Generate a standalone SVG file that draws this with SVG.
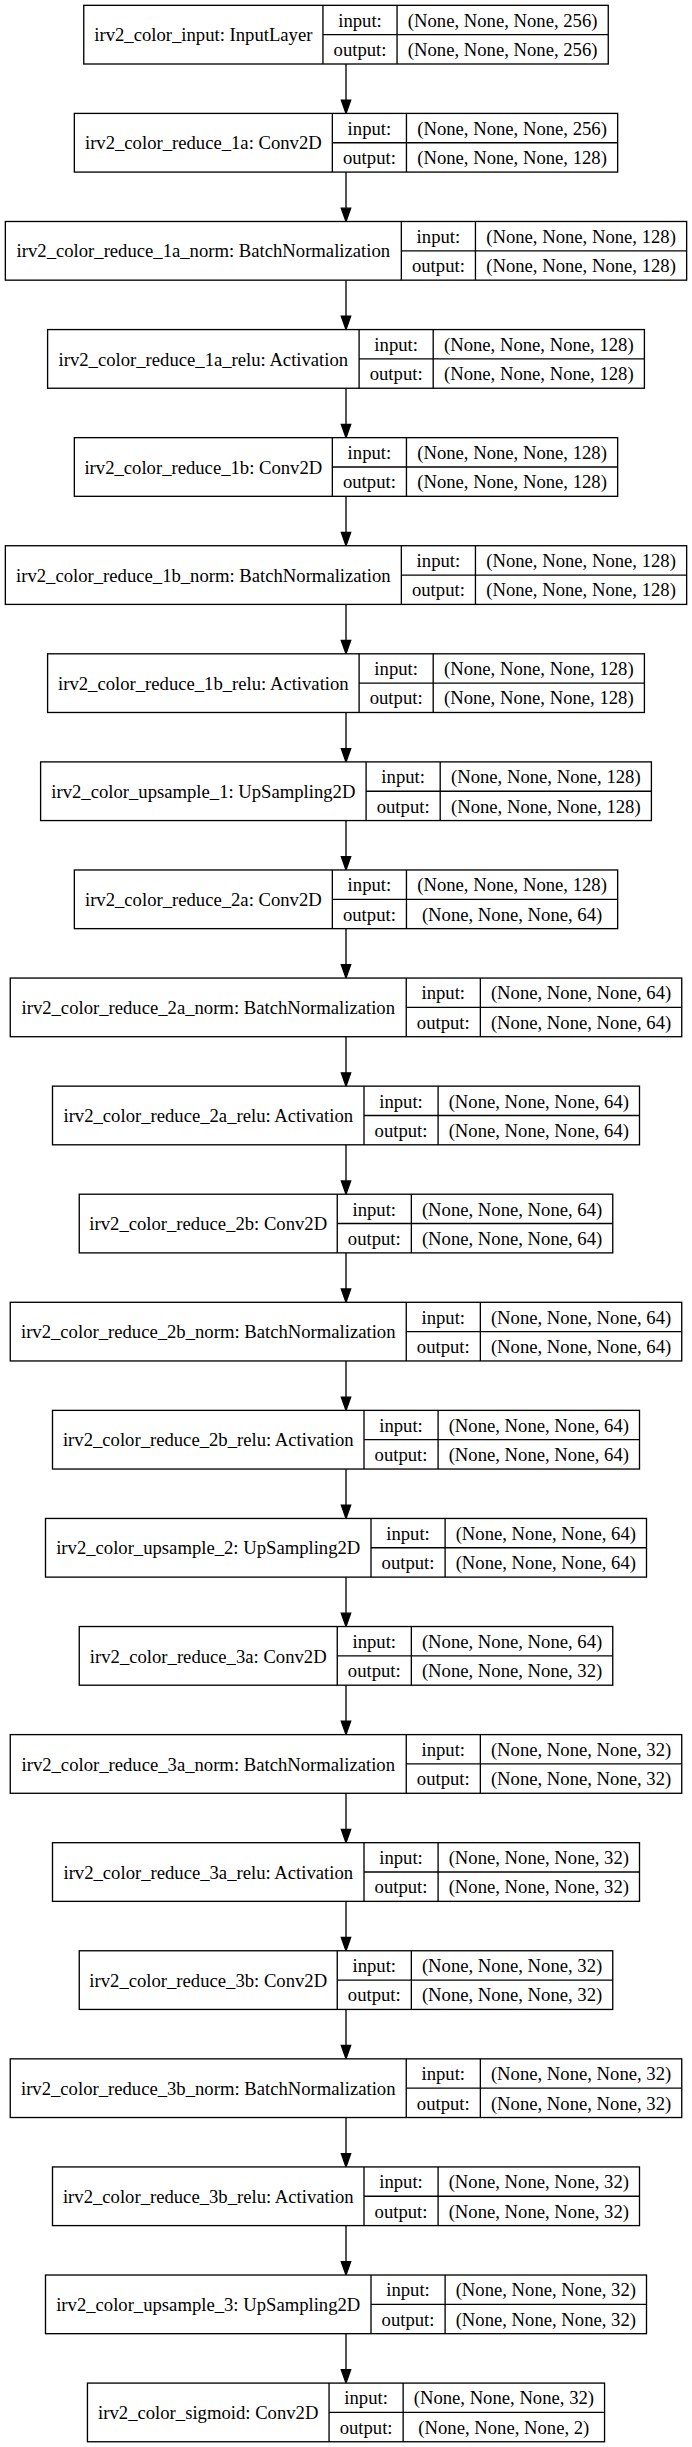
<svg xmlns="http://www.w3.org/2000/svg" width="692" height="2447" viewBox="0 0 692 2447">
<style>
rect.b{fill:#fff;stroke:#000;stroke-width:1.33}
line.s{stroke:#000;stroke-width:1.33}
text{font-family:"Liberation Serif","Times New Roman",serif;font-size:18.67px;text-anchor:middle;fill:#000}
.e line{stroke:#000;stroke-width:1.33}
.e polygon{fill:#000;stroke:#000;stroke-width:1.33}
</style>
<rect x="0" y="0" width="692" height="2447" fill="#fff"/>
<g class="e" id="edges">
<line x1="346" y1="64" x2="346" y2="100.08"/><polygon points="341.33,100.08 346,113.41 350.67,100.08"/>
<line x1="346" y1="172.08" x2="346" y2="208.16"/><polygon points="341.33,208.16 346,221.49 350.67,208.16"/>
<line x1="346" y1="280.16" x2="346" y2="316.24"/><polygon points="341.33,316.24 346,329.57 350.67,316.24"/>
<line x1="346" y1="388.24" x2="346" y2="424.32"/><polygon points="341.33,424.32 346,437.65 350.67,424.32"/>
<line x1="346" y1="496.32" x2="346" y2="532.4"/><polygon points="341.33,532.4 346,545.73 350.67,532.4"/>
<line x1="346" y1="604.4" x2="346" y2="640.48"/><polygon points="341.33,640.48 346,653.81 350.67,640.48"/>
<line x1="346" y1="712.48" x2="346" y2="748.56"/><polygon points="341.33,748.56 346,761.89 350.67,748.56"/>
<line x1="346" y1="820.56" x2="346" y2="856.64"/><polygon points="341.33,856.64 346,869.97 350.67,856.64"/>
<line x1="346" y1="928.64" x2="346" y2="964.72"/><polygon points="341.33,964.72 346,978.05 350.67,964.72"/>
<line x1="346" y1="1036.72" x2="346" y2="1072.8"/><polygon points="341.33,1072.8 346,1086.13 350.67,1072.8"/>
<line x1="346" y1="1144.8" x2="346" y2="1180.88"/><polygon points="341.33,1180.88 346,1194.21 350.67,1180.88"/>
<line x1="346" y1="1252.88" x2="346" y2="1288.96"/><polygon points="341.33,1288.96 346,1302.29 350.67,1288.96"/>
<line x1="346" y1="1360.96" x2="346" y2="1397.04"/><polygon points="341.33,1397.04 346,1410.37 350.67,1397.04"/>
<line x1="346" y1="1469.04" x2="346" y2="1505.12"/><polygon points="341.33,1505.12 346,1518.45 350.67,1505.12"/>
<line x1="346" y1="1577.12" x2="346" y2="1613.2"/><polygon points="341.33,1613.2 346,1626.53 350.67,1613.2"/>
<line x1="346" y1="1685.2" x2="346" y2="1721.28"/><polygon points="341.33,1721.28 346,1734.61 350.67,1721.28"/>
<line x1="346" y1="1793.28" x2="346" y2="1829.36"/><polygon points="341.33,1829.36 346,1842.69 350.67,1829.36"/>
<line x1="346" y1="1901.36" x2="346" y2="1937.44"/><polygon points="341.33,1937.44 346,1950.77 350.67,1937.44"/>
<line x1="346" y1="2009.44" x2="346" y2="2045.52"/><polygon points="341.33,2045.52 346,2058.85 350.67,2045.52"/>
<line x1="346" y1="2117.52" x2="346" y2="2153.6"/><polygon points="341.33,2153.6 346,2166.93 350.67,2153.6"/>
<line x1="346" y1="2225.6" x2="346" y2="2261.68"/><polygon points="341.33,2261.68 346,2275.01 350.67,2261.68"/>
<line x1="346" y1="2333.68" x2="346" y2="2369.76"/><polygon points="341.33,2369.76 346,2383.09 350.67,2369.76"/>
</g>

<g id="n0" transform="translate(83.75,5.33)">
<rect class="b" width="524.5" height="58.67"/>
<line class="s" x1="239.2" y1="0" x2="239.2" y2="58.67"/><line class="s" x1="313.3" y1="0" x2="313.3" y2="58.67"/><line class="s" x1="239.2" y1="29.33" x2="524.5" y2="29.33"/>
<text x="119.6" y="36">irv2_color_input: InputLayer</text>
<text x="276.25" y="21.4">input:</text><text x="276.25" y="50.7">output:</text>
<text x="418.9" y="21.4">(None, None, None, 256)</text><text x="418.9" y="50.7">(None, None, None, 256)</text>
</g>

<g id="n1" transform="translate(74.35,113.41)">
<rect class="b" width="543.3" height="58.67"/>
<line class="s" x1="258" y1="0" x2="258" y2="58.67"/><line class="s" x1="332.1" y1="0" x2="332.1" y2="58.67"/><line class="s" x1="258" y1="29.33" x2="543.3" y2="29.33"/>
<text x="129" y="36">irv2_color_reduce_1a: Conv2D</text>
<text x="295.05" y="21.4">input:</text><text x="295.05" y="50.7">output:</text>
<text x="437.7" y="21.4">(None, None, None, 256)</text><text x="437.7" y="50.7">(None, None, None, 128)</text>
</g>

<g id="n2" transform="translate(5.35,221.49)">
<rect class="b" width="681.3" height="58.67"/>
<line class="s" x1="396" y1="0" x2="396" y2="58.67"/><line class="s" x1="470.1" y1="0" x2="470.1" y2="58.67"/><line class="s" x1="396" y1="29.33" x2="681.3" y2="29.33"/>
<text x="198" y="36">irv2_color_reduce_1a_norm: BatchNormalization</text>
<text x="433.05" y="21.4">input:</text><text x="433.05" y="50.7">output:</text>
<text x="575.7" y="21.4">(None, None, None, 128)</text><text x="575.7" y="50.7">(None, None, None, 128)</text>
</g>

<g id="n3" transform="translate(47.6,329.57)">
<rect class="b" width="596.8" height="58.67"/>
<line class="s" x1="311.5" y1="0" x2="311.5" y2="58.67"/><line class="s" x1="385.6" y1="0" x2="385.6" y2="58.67"/><line class="s" x1="311.5" y1="29.33" x2="596.8" y2="29.33"/>
<text x="155.75" y="36">irv2_color_reduce_1a_relu: Activation</text>
<text x="348.55" y="21.4">input:</text><text x="348.55" y="50.7">output:</text>
<text x="491.2" y="21.4">(None, None, None, 128)</text><text x="491.2" y="50.7">(None, None, None, 128)</text>
</g>

<g id="n4" transform="translate(74.35,437.65)">
<rect class="b" width="543.3" height="58.67"/>
<line class="s" x1="258" y1="0" x2="258" y2="58.67"/><line class="s" x1="332.1" y1="0" x2="332.1" y2="58.67"/><line class="s" x1="258" y1="29.33" x2="543.3" y2="29.33"/>
<text x="129" y="36">irv2_color_reduce_1b: Conv2D</text>
<text x="295.05" y="21.4">input:</text><text x="295.05" y="50.7">output:</text>
<text x="437.7" y="21.4">(None, None, None, 128)</text><text x="437.7" y="50.7">(None, None, None, 128)</text>
</g>

<g id="n5" transform="translate(5.35,545.73)">
<rect class="b" width="681.3" height="58.67"/>
<line class="s" x1="396" y1="0" x2="396" y2="58.67"/><line class="s" x1="470.1" y1="0" x2="470.1" y2="58.67"/><line class="s" x1="396" y1="29.33" x2="681.3" y2="29.33"/>
<text x="198" y="36">irv2_color_reduce_1b_norm: BatchNormalization</text>
<text x="433.05" y="21.4">input:</text><text x="433.05" y="50.7">output:</text>
<text x="575.7" y="21.4">(None, None, None, 128)</text><text x="575.7" y="50.7">(None, None, None, 128)</text>
</g>

<g id="n6" transform="translate(47.6,653.81)">
<rect class="b" width="596.8" height="58.67"/>
<line class="s" x1="311.5" y1="0" x2="311.5" y2="58.67"/><line class="s" x1="385.6" y1="0" x2="385.6" y2="58.67"/><line class="s" x1="311.5" y1="29.33" x2="596.8" y2="29.33"/>
<text x="155.75" y="36">irv2_color_reduce_1b_relu: Activation</text>
<text x="348.55" y="21.4">input:</text><text x="348.55" y="50.7">output:</text>
<text x="491.2" y="21.4">(None, None, None, 128)</text><text x="491.2" y="50.7">(None, None, None, 128)</text>
</g>

<g id="n7" transform="translate(40.6,761.89)">
<rect class="b" width="610.8" height="58.67"/>
<line class="s" x1="325.5" y1="0" x2="325.5" y2="58.67"/><line class="s" x1="399.6" y1="0" x2="399.6" y2="58.67"/><line class="s" x1="325.5" y1="29.33" x2="610.8" y2="29.33"/>
<text x="162.75" y="36">irv2_color_upsample_1: UpSampling2D</text>
<text x="362.55" y="21.4">input:</text><text x="362.55" y="50.7">output:</text>
<text x="505.2" y="21.4">(None, None, None, 128)</text><text x="505.2" y="50.7">(None, None, None, 128)</text>
</g>

<g id="n8" transform="translate(74.35,869.97)">
<rect class="b" width="543.3" height="58.67"/>
<line class="s" x1="258" y1="0" x2="258" y2="58.67"/><line class="s" x1="332.1" y1="0" x2="332.1" y2="58.67"/><line class="s" x1="258" y1="29.33" x2="543.3" y2="29.33"/>
<text x="129" y="36">irv2_color_reduce_2a: Conv2D</text>
<text x="295.05" y="21.4">input:</text><text x="295.05" y="50.7">output:</text>
<text x="437.7" y="21.4">(None, None, None, 128)</text><text x="437.7" y="50.7">(None, None, None, 64)</text>
</g>

<g id="n9" transform="translate(10.25,978.05)">
<rect class="b" width="671.5" height="58.67"/>
<line class="s" x1="396" y1="0" x2="396" y2="58.67"/><line class="s" x1="470.1" y1="0" x2="470.1" y2="58.67"/><line class="s" x1="396" y1="29.33" x2="671.5" y2="29.33"/>
<text x="198" y="36">irv2_color_reduce_2a_norm: BatchNormalization</text>
<text x="433.05" y="21.4">input:</text><text x="433.05" y="50.7">output:</text>
<text x="570.8" y="21.4">(None, None, None, 64)</text><text x="570.8" y="50.7">(None, None, None, 64)</text>
</g>

<g id="n10" transform="translate(52.5,1086.13)">
<rect class="b" width="587" height="58.67"/>
<line class="s" x1="311.5" y1="0" x2="311.5" y2="58.67"/><line class="s" x1="385.6" y1="0" x2="385.6" y2="58.67"/><line class="s" x1="311.5" y1="29.33" x2="587" y2="29.33"/>
<text x="155.75" y="36">irv2_color_reduce_2a_relu: Activation</text>
<text x="348.55" y="21.4">input:</text><text x="348.55" y="50.7">output:</text>
<text x="486.3" y="21.4">(None, None, None, 64)</text><text x="486.3" y="50.7">(None, None, None, 64)</text>
</g>

<g id="n11" transform="translate(79.25,1194.21)">
<rect class="b" width="533.5" height="58.67"/>
<line class="s" x1="258" y1="0" x2="258" y2="58.67"/><line class="s" x1="332.1" y1="0" x2="332.1" y2="58.67"/><line class="s" x1="258" y1="29.33" x2="533.5" y2="29.33"/>
<text x="129" y="36">irv2_color_reduce_2b: Conv2D</text>
<text x="295.05" y="21.4">input:</text><text x="295.05" y="50.7">output:</text>
<text x="432.8" y="21.4">(None, None, None, 64)</text><text x="432.8" y="50.7">(None, None, None, 64)</text>
</g>

<g id="n12" transform="translate(10.25,1302.29)">
<rect class="b" width="671.5" height="58.67"/>
<line class="s" x1="396" y1="0" x2="396" y2="58.67"/><line class="s" x1="470.1" y1="0" x2="470.1" y2="58.67"/><line class="s" x1="396" y1="29.33" x2="671.5" y2="29.33"/>
<text x="198" y="36">irv2_color_reduce_2b_norm: BatchNormalization</text>
<text x="433.05" y="21.4">input:</text><text x="433.05" y="50.7">output:</text>
<text x="570.8" y="21.4">(None, None, None, 64)</text><text x="570.8" y="50.7">(None, None, None, 64)</text>
</g>

<g id="n13" transform="translate(52.5,1410.37)">
<rect class="b" width="587" height="58.67"/>
<line class="s" x1="311.5" y1="0" x2="311.5" y2="58.67"/><line class="s" x1="385.6" y1="0" x2="385.6" y2="58.67"/><line class="s" x1="311.5" y1="29.33" x2="587" y2="29.33"/>
<text x="155.75" y="36">irv2_color_reduce_2b_relu: Activation</text>
<text x="348.55" y="21.4">input:</text><text x="348.55" y="50.7">output:</text>
<text x="486.3" y="21.4">(None, None, None, 64)</text><text x="486.3" y="50.7">(None, None, None, 64)</text>
</g>

<g id="n14" transform="translate(45.5,1518.45)">
<rect class="b" width="601" height="58.67"/>
<line class="s" x1="325.5" y1="0" x2="325.5" y2="58.67"/><line class="s" x1="399.6" y1="0" x2="399.6" y2="58.67"/><line class="s" x1="325.5" y1="29.33" x2="601" y2="29.33"/>
<text x="162.75" y="36">irv2_color_upsample_2: UpSampling2D</text>
<text x="362.55" y="21.4">input:</text><text x="362.55" y="50.7">output:</text>
<text x="500.3" y="21.4">(None, None, None, 64)</text><text x="500.3" y="50.7">(None, None, None, 64)</text>
</g>

<g id="n15" transform="translate(79.25,1626.53)">
<rect class="b" width="533.5" height="58.67"/>
<line class="s" x1="258" y1="0" x2="258" y2="58.67"/><line class="s" x1="332.1" y1="0" x2="332.1" y2="58.67"/><line class="s" x1="258" y1="29.33" x2="533.5" y2="29.33"/>
<text x="129" y="36">irv2_color_reduce_3a: Conv2D</text>
<text x="295.05" y="21.4">input:</text><text x="295.05" y="50.7">output:</text>
<text x="432.8" y="21.4">(None, None, None, 64)</text><text x="432.8" y="50.7">(None, None, None, 32)</text>
</g>

<g id="n16" transform="translate(10.25,1734.61)">
<rect class="b" width="671.5" height="58.67"/>
<line class="s" x1="396" y1="0" x2="396" y2="58.67"/><line class="s" x1="470.1" y1="0" x2="470.1" y2="58.67"/><line class="s" x1="396" y1="29.33" x2="671.5" y2="29.33"/>
<text x="198" y="36">irv2_color_reduce_3a_norm: BatchNormalization</text>
<text x="433.05" y="21.4">input:</text><text x="433.05" y="50.7">output:</text>
<text x="570.8" y="21.4">(None, None, None, 32)</text><text x="570.8" y="50.7">(None, None, None, 32)</text>
</g>

<g id="n17" transform="translate(52.5,1842.69)">
<rect class="b" width="587" height="58.67"/>
<line class="s" x1="311.5" y1="0" x2="311.5" y2="58.67"/><line class="s" x1="385.6" y1="0" x2="385.6" y2="58.67"/><line class="s" x1="311.5" y1="29.33" x2="587" y2="29.33"/>
<text x="155.75" y="36">irv2_color_reduce_3a_relu: Activation</text>
<text x="348.55" y="21.4">input:</text><text x="348.55" y="50.7">output:</text>
<text x="486.3" y="21.4">(None, None, None, 32)</text><text x="486.3" y="50.7">(None, None, None, 32)</text>
</g>

<g id="n18" transform="translate(79.25,1950.77)">
<rect class="b" width="533.5" height="58.67"/>
<line class="s" x1="258" y1="0" x2="258" y2="58.67"/><line class="s" x1="332.1" y1="0" x2="332.1" y2="58.67"/><line class="s" x1="258" y1="29.33" x2="533.5" y2="29.33"/>
<text x="129" y="36">irv2_color_reduce_3b: Conv2D</text>
<text x="295.05" y="21.4">input:</text><text x="295.05" y="50.7">output:</text>
<text x="432.8" y="21.4">(None, None, None, 32)</text><text x="432.8" y="50.7">(None, None, None, 32)</text>
</g>

<g id="n19" transform="translate(10.25,2058.85)">
<rect class="b" width="671.5" height="58.67"/>
<line class="s" x1="396" y1="0" x2="396" y2="58.67"/><line class="s" x1="470.1" y1="0" x2="470.1" y2="58.67"/><line class="s" x1="396" y1="29.33" x2="671.5" y2="29.33"/>
<text x="198" y="36">irv2_color_reduce_3b_norm: BatchNormalization</text>
<text x="433.05" y="21.4">input:</text><text x="433.05" y="50.7">output:</text>
<text x="570.8" y="21.4">(None, None, None, 32)</text><text x="570.8" y="50.7">(None, None, None, 32)</text>
</g>

<g id="n20" transform="translate(52.5,2166.93)">
<rect class="b" width="587" height="58.67"/>
<line class="s" x1="311.5" y1="0" x2="311.5" y2="58.67"/><line class="s" x1="385.6" y1="0" x2="385.6" y2="58.67"/><line class="s" x1="311.5" y1="29.33" x2="587" y2="29.33"/>
<text x="155.75" y="36">irv2_color_reduce_3b_relu: Activation</text>
<text x="348.55" y="21.4">input:</text><text x="348.55" y="50.7">output:</text>
<text x="486.3" y="21.4">(None, None, None, 32)</text><text x="486.3" y="50.7">(None, None, None, 32)</text>
</g>

<g id="n21" transform="translate(45.5,2275.01)">
<rect class="b" width="601" height="58.67"/>
<line class="s" x1="325.5" y1="0" x2="325.5" y2="58.67"/><line class="s" x1="399.6" y1="0" x2="399.6" y2="58.67"/><line class="s" x1="325.5" y1="29.33" x2="601" y2="29.33"/>
<text x="162.75" y="36">irv2_color_upsample_3: UpSampling2D</text>
<text x="362.55" y="21.4">input:</text><text x="362.55" y="50.7">output:</text>
<text x="500.3" y="21.4">(None, None, None, 32)</text><text x="500.3" y="50.7">(None, None, None, 32)</text>
</g>

<g id="n22" transform="translate(87.45,2383.09)">
<rect class="b" width="517.1" height="58.67"/>
<line class="s" x1="241.6" y1="0" x2="241.6" y2="58.67"/><line class="s" x1="315.7" y1="0" x2="315.7" y2="58.67"/><line class="s" x1="241.6" y1="29.33" x2="517.1" y2="29.33"/>
<text x="120.8" y="36">irv2_color_sigmoid: Conv2D</text>
<text x="278.65" y="21.4">input:</text><text x="278.65" y="50.7">output:</text>
<text x="416.4" y="21.4">(None, None, None, 32)</text><text x="416.4" y="50.7">(None, None, None, 2)</text>
</g>
</svg>
